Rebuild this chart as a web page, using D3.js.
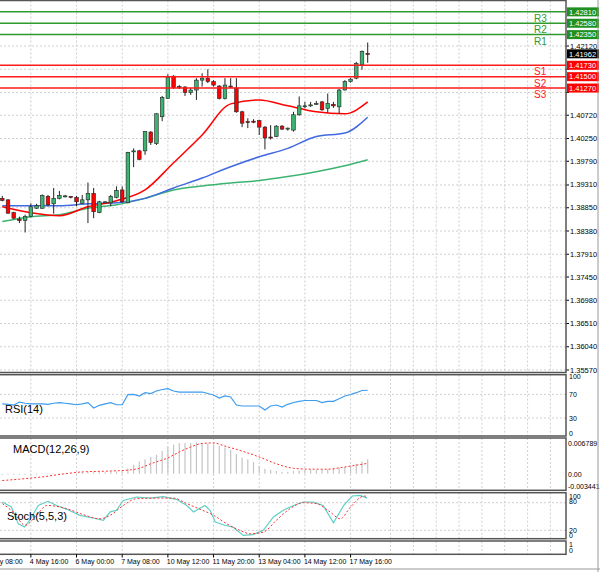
<!DOCTYPE html>
<html>
<head>
<meta charset="utf-8">
<script src="https://cdn.jsdelivr.net/npm/d3@7.9.0/dist/d3.min.js"></script>
<style>
  body { margin: 0; background: #fff; }
  svg { display: block; font-family: "Liberation Sans", Arial, sans-serif; }
</style>
</head>
<body>
<svg id="chart" width="600" height="572"></svg>
<script>
// Candles (4H)
const opens  = [1.3904,1.3901,1.3875,1.3862,1.3859,1.3867,1.3884,1.3884,1.3908,1.3893,1.3904,1.3908,1.3908,1.3906,1.3894,1.3901,1.3914,1.3875,1.3896,1.3895,1.3906,1.3921,1.3895,1.3998,1.4000,1.4000,1.4038,1.4015,1.4069,1.4106,1.4151,1.4130,1.4129,1.4118,1.4123,1.4143,1.4147,1.4140,1.4131,1.4106,1.4131,1.4127,1.4079,1.4059,1.4060,1.4061,1.4048,1.4028,1.4029,1.4050,1.4044,1.4042,1.4073,1.4089,1.4092,1.4095,1.4099,1.4086,1.4094,1.4089,1.4123,1.4140,1.4147,1.4174,1.4197];
const closes = [1.3900,1.3874,1.3864,1.3859,1.3867,1.3887,1.3889,1.3910,1.3891,1.3904,1.3910,1.3909,1.3906,1.3897,1.3901,1.3914,1.3877,1.3897,1.3897,1.3908,1.3920,1.3897,1.3997,1.4000,1.3983,1.4039,1.4017,1.4075,1.4108,1.4149,1.4128,1.4129,1.4118,1.4123,1.4143,1.4147,1.4140,1.4133,1.4106,1.4133,1.4129,1.4079,1.4056,1.4058,1.4059,1.4048,1.4026,1.4027,1.4050,1.4044,1.4046,1.4073,1.4091,1.4091,1.4093,1.4096,1.4083,1.4096,1.4091,1.4123,1.4140,1.4145,1.4177,1.4201,1.41962];
const highs  = [1.3909,1.3902,1.3877,1.3867,1.3871,1.3894,1.3893,1.3912,1.3911,1.3925,1.3919,1.3911,1.3908,1.3909,1.3911,1.3936,1.3925,1.3899,1.3898,1.3911,1.3928,1.3928,1.3998,1.4005,1.4002,1.4040,1.4040,1.4076,1.4111,1.4155,1.4153,1.4133,1.4131,1.4127,1.4147,1.4157,1.4165,1.4143,1.4133,1.4147,1.4147,1.4147,1.4081,1.4066,1.4064,1.4063,1.4050,1.4052,1.4052,1.4052,1.4047,1.4079,1.4110,1.4099,1.4099,1.4101,1.4101,1.4116,1.4099,1.4125,1.4143,1.4147,1.4180,1.4203,1.4219];
const lows   = [1.3898,1.3873,1.3862,1.3854,1.3835,1.3866,1.3883,1.3883,1.3888,1.3873,1.3902,1.3906,1.3904,1.3888,1.3893,1.3854,1.3864,1.3874,1.3894,1.3888,1.3904,1.3895,1.3894,1.3967,1.3981,1.3992,1.4012,1.4012,1.4060,1.4105,1.4125,1.4125,1.4111,1.4113,1.4103,1.4130,1.4137,1.4130,1.4104,1.4104,1.4127,1.4077,1.4048,1.4046,1.4056,1.4032,1.4003,1.4023,1.4028,1.4042,1.4041,1.4039,1.4071,1.4086,1.4089,1.4093,1.4081,1.4077,1.4087,1.4075,1.4122,1.4138,1.4145,1.4164,1.4178];

// Moving averages sampled at candle indices
const maIdx   = [0,5,10,15,20,25,30,35,40,45,50,55,60,64];
const maRed   = [1.3887,1.3875,1.3869,1.3887,1.3899,1.3921,1.3976,1.4032,1.4095,1.4103,1.4091,1.4079,1.4075,1.4099];
const maBlue  = [1.3889,1.3889,1.3889,1.3893,1.3895,1.3904,1.3925,1.3945,1.3968,1.3988,1.4005,1.4029,1.4036,1.4068];
const maGreen = [1.3857,1.3867,1.3871,1.3884,1.3891,1.3904,1.3921,1.3929,1.3935,1.3940,1.3948,1.3958,1.3970,1.3982];

// Pivot levels
const levelNames  = ['R3','R2','R1','S1','S2','S3'];
const levelValues = [1.42810,1.42580,1.42350,1.41730,1.41500,1.41270];
const lastPrice = 1.41962;
const priceTicks = [1.42120,1.41650,1.41180,1.40720,1.40250,1.39790,1.39310,1.38850,1.38380,1.37910,1.37450,1.36980,1.36510,1.36040,1.35570];

// RSI(14)
const rsi = [54,53,52,57,55,54,54,54,53,55,56,55,54,52.5,54,56,47,51.5,54,56,52.5,52.5,69.5,70,67.3,72.9,71.5,75.8,78.3,79.7,75.8,74,74,74,74,74,71.5,69,63.9,67.3,65.6,52,50.3,50.3,50.3,50.3,43.6,50.3,52,48.6,53.2,56.3,58.3,59.7,59.7,59.7,56,58.3,58.3,62.7,67.3,69.8,72.9,76.6,77];

// MACD(12,26,9)
const macdHist = [-0.0002,-0.0002,-0.0002,-0.0002,-0.0002,-0.0002,-0.0002,
  0.0001,0.0001,0.0001,0.0001,0.0001,0.0001,0.0001,
  0.0003,0.0003,0.0003,0.0003,0.0003,
  0.0005,0.0005,0.0005,
  0.0011,0.002,0.0027,0.0032,0.0037,0.0042,0.005,0.0059,0.0064,0.0068,0.0068,0.0068,0.0069,
  0.0068,0.0067,0.0065,0.0062,0.0058,0.0053,0.0043,0.0036,0.0032,0.0026,0.0017,0.0011,0.0009,0.0006,0.0004,
  0.0004,0.0006,0.0007,0.0007,0.0008,0.0008,0.0009,0.0010,0.0011,0.0013,0.0015,0.0018,0.0022,0.0027,0.0032];
const sigIdx = [0,3,7,11,14,19,22,24,26,29,31,33,35,37,39,42,45,48,51,54,57,60,64];
const sigVal = [-0.0015,-0.0012,-0.0007,0,0.0004,0.0006,0.0008,0.0012,0.0022,0.0035,0.0048,0.0059,0.0067,0.0068,0.0061,0.005,0.0037,0.0022,0.0012,0.001,0.001,0.0015,0.0023];

// Stochastic(5,5,3)
const stIdx  = [0,1.6,2.8,3.9,4.8,6.3,8,9.5,11.3,13.6,15.9,17.7,18.9,20,21.2,23.5,25.9,28.2,30.5,32.3,33.5,34.6,35.5,36.4,37.3,39,40.4,42.2,43.9,45.7,47.5,49.2,51,52.7,54.5,56.2,58,59.8,61.3,62.7,63.9];
const stMain = [81.5,70.6,34,27,42,74,83,74,65.6,52.6,46.7,41.7,60,63.5,85,92.4,90,93,87.4,74,60,68,74,63.5,38,30.9,27,9,10.4,20,49,63.5,74,81.5,81.5,74,36.5,74,94.6,96,90];
const sgIdx  = [0,1.9,4,6,7.8,11.3,14.2,17.1,18.9,21.2,23.5,27,30,32.3,34.6,37,39.3,41.6,43.4,45.7,48,50.4,52.7,55,57.4,59.2,61,63.4,64];
const stSig  = [78,60,31,52.6,74,67,54,45,52.6,74,88.8,90,90,78,66,52.6,34.2,20,12.5,16,41.7,67,80,78,60,45,70.6,94.6,92.4];

const timeLabels = ['3 May 08:00','4 May 16:00','6 May 00:00','7 May 08:00','10 May 12:00','11 May 20:00','13 May 04:00','14 May 12:00','17 May 16:00'];
const timeIdx = [-3,5,13,21,29,37,45,53,61];
const gridIdx = [5,13,21,29,37,45,53,61,68,72,76,80,84,88,92,96];

const svg = d3.select('#chart');
const right = 566;

// scales
const x = d3.scaleLinear().domain([0, 64]).range([2.3, 367.7]);
const y = d3.scaleLinear().domain([1.3557, 1.4212]).range([370, 46]);
const yRsi = d3.scaleLinear().domain([0, 100]).range([435.7, 376.7]);
const yMacd = d3.scaleLinear().domain([-0.003441, 0.006789]).range([489.3, 443]);
const ySt = d3.scaleLinear().domain([0, 100]).range([539.5, 493.5]);

const panels = [
  { top: 0.5, bottom: 372.5 },
  { top: 374.7, bottom: 436 },
  { top: 438, bottom: 490.3 },
  { top: 492.7, bottom: 538.7 },
  { top: 541, bottom: 554.3 }
];

// vertical grid in every panel
panels.forEach(p => {
  svg.append('g').selectAll('line').data(gridIdx).join('line')
    .attr('x1', d => x(d)).attr('x2', d => x(d))
    .attr('y1', p.top).attr('y2', p.bottom)
    .attr('stroke', '#cfcfcf').attr('stroke-dasharray', '2,2');
});

// horizontal grid
function hgrid(vals, scale) {
  svg.append('g').selectAll('line').data(vals).join('line')
    .attr('x1', 0).attr('x2', right)
    .attr('y1', d => scale(d)).attr('y2', d => scale(d))
    .attr('stroke', '#cfcfcf').attr('stroke-dasharray', '2,2');
}
hgrid(priceTicks, y);
hgrid([70, 30], yRsi);
hgrid([80, 20], ySt);

// price axis labels (those under a level box stay hidden, as in the original)
const axis = svg.append('g').attr('font-size', 7.5).attr('fill', '#000');
priceTicks.forEach(v => {
  axis.append('line').attr('x1', right).attr('x2', right + 3)
    .attr('y1', y(v)).attr('y2', y(v)).attr('stroke', '#000');
  const covered = levelValues.some(l => Math.abs(y(l) - y(v)) < 8);
  axis.append('text').attr('x', right + 4).attr('y', y(v) + 2.5)
    .attr('opacity', covered ? 0 : 1).text(v.toFixed(5));
});

// moving averages
const maLine = vals => d3.line().curve(d3.curveMonotoneX)
  .x((d, i) => x(maIdx[i])).y(d => y(d))(vals);
svg.append('path').attr('d', maLine(maGreen)).attr('fill', 'none').attr('stroke', '#3cb371').attr('stroke-width', 1.5);
svg.append('path').attr('d', maLine(maBlue)).attr('fill', 'none').attr('stroke', '#4169e1').attr('stroke-width', 1.5);
svg.append('path').attr('d', maLine(maRed)).attr('fill', 'none').attr('stroke', '#ff0000').attr('stroke-width', 1.5);

// candles
const candles = opens.map((o, i) => ({ i, o, c: closes[i], h: highs[i], l: lows[i] }));
const cg = svg.append('g');
cg.selectAll('line').data(candles).join('line')
  .attr('x1', d => x(d.i)).attr('x2', d => x(d.i))
  .attr('y1', d => y(d.h)).attr('y2', d => y(d.l))
  .attr('stroke', '#222');
cg.selectAll('rect').data(candles).join('rect')
  .attr('x', d => x(d.i) - 1.8).attr('width', 3.6)
  .attr('y', d => y(Math.max(d.o, d.c)))
  .attr('height', d => Math.max(1, Math.abs(y(d.o) - y(d.c))))
  .attr('fill', d => d.c >= d.o ? '#3cb371' : '#ff0000')
  .attr('stroke', '#222').attr('stroke-width', 0.6);

// pivot levels
levelValues.forEach((v, k) => {
  const res = levelNames[k][0] === 'R';
  const col = res ? '#2e9a2e' : '#ff1a1a';
  svg.append('line').attr('x1', 0).attr('x2', right).attr('y1', y(v)).attr('y2', y(v))
    .attr('stroke', col).attr('stroke-width', 1.5);
  svg.append('text').attr('x', 534).attr('y', y(v) + 10).attr('font-size', 10)
    .attr('fill', col).text(levelNames[k]);
  svg.append('rect').attr('x', right + 1).attr('y', y(v) - 4.5).attr('width', 32).attr('height', 9)
    .attr('fill', res ? '#1f8f1f' : '#ff0000');
  svg.append('text').attr('x', right + 3).attr('y', y(v) + 2.8).attr('font-size', 7.5)
    .attr('fill', '#fff').text(v.toFixed(5));
});
svg.append('rect').attr('x', right + 1).attr('y', y(lastPrice) - 4.5).attr('width', 32).attr('height', 9).attr('fill', '#000');
svg.append('text').attr('x', right + 3).attr('y', y(lastPrice) + 2.8).attr('font-size', 7.5)
  .attr('fill', '#fff').text(lastPrice.toFixed(5));

// RSI
svg.append('path')
  .attr('d', d3.line().x((d, i) => x(i)).y(d => yRsi(d))(rsi))
  .attr('fill', 'none').attr('stroke', '#3c9cf0').attr('stroke-width', 1.2);

// MACD
svg.append('g').selectAll('line').data(macdHist).join('line')
  .attr('x1', (d, i) => x(i)).attr('x2', (d, i) => x(i))
  .attr('y1', yMacd(0)).attr('y2', d => yMacd(d))
  .attr('stroke', '#c4c4c4').attr('stroke-width', 1.2);
svg.append('path')
  .attr('d', d3.line().curve(d3.curveMonotoneX).x((d, i) => x(sigIdx[i])).y(d => yMacd(d))(sigVal))
  .attr('fill', 'none').attr('stroke', '#ff3030').attr('stroke-dasharray', '2,2');

// Stochastic
svg.append('path')
  .attr('d', d3.line().x((d, i) => x(stIdx[i])).y(d => ySt(d))(stMain))
  .attr('fill', 'none').attr('stroke', '#5fd0c8').attr('stroke-width', 1.2);
svg.append('path')
  .attr('d', d3.line().curve(d3.curveMonotoneX).x((d, i) => x(sgIdx[i])).y(d => ySt(d))(stSig))
  .attr('fill', 'none').attr('stroke', '#ff3030').attr('stroke-dasharray', '2,2');

// panel frames
panels.forEach(p => {
  svg.append('rect').attr('x', -2).attr('y', p.top).attr('width', right + 2).attr('height', p.bottom - p.top)
    .attr('fill', 'none').attr('stroke', '#555').attr('stroke-width', 1.5);
});

// panel titles
svg.append('text').attr('x', 5).attr('y', 413).attr('font-size', 11).text('RSI(14)');
svg.append('text').attr('x', 13).attr('y', 453).attr('font-size', 11).text('MACD(12,26,9)');
svg.append('text').attr('x', 7).attr('y', 520).attr('font-size', 11).text('Stoch(5,5,3)');

// indicator axis labels
const sub = svg.append('g').attr('font-size', 7).attr('fill', '#000');
[[100, yRsi(100) + 2], [70, yRsi(70) + 2.5], [30, yRsi(30) + 2.5], [0, yRsi(0)]].forEach(([t, yy]) =>
  sub.append('text').attr('x', right + 3).attr('y', yy).text(t));
[['0.006789', 446], ['0.00', 476.5], ['-0.003441', 488.5]].forEach(([t, yy]) =>
  sub.append('text').attr('x', right + 2).attr('y', yy).text(t));
[[100, 499], [80, 504], [20, 532.5], [0, 537.5]].forEach(([t, yy]) =>
  sub.append('text').attr('x', right + 3).attr('y', yy).text(t));
[['1', 547], ['0', 552.5]].forEach(([t, yy]) =>
  sub.append('text').attr('x', right + 3).attr('y', yy).text(t));

// time axis
const tg = svg.append('g').attr('font-size', 7);
timeIdx.forEach((ti, k) => {
  tg.append('line').attr('x1', x(ti)).attr('x2', x(ti)).attr('y1', 554.3).attr('y2', 557.5).attr('stroke', '#000');
  tg.append('text').attr('x', x(ti) - 1).attr('y', 564).text(timeLabels[k]);
});

// window edges
svg.append('line').attr('x1', 0).attr('x2', 600).attr('y1', 569).attr('y2', 569).attr('stroke', '#999');
svg.append('line').attr('x1', 598).attr('x2', 598).attr('y1', 0).attr('y2', 572).attr('stroke', '#999');
</script>
</body>
</html>
